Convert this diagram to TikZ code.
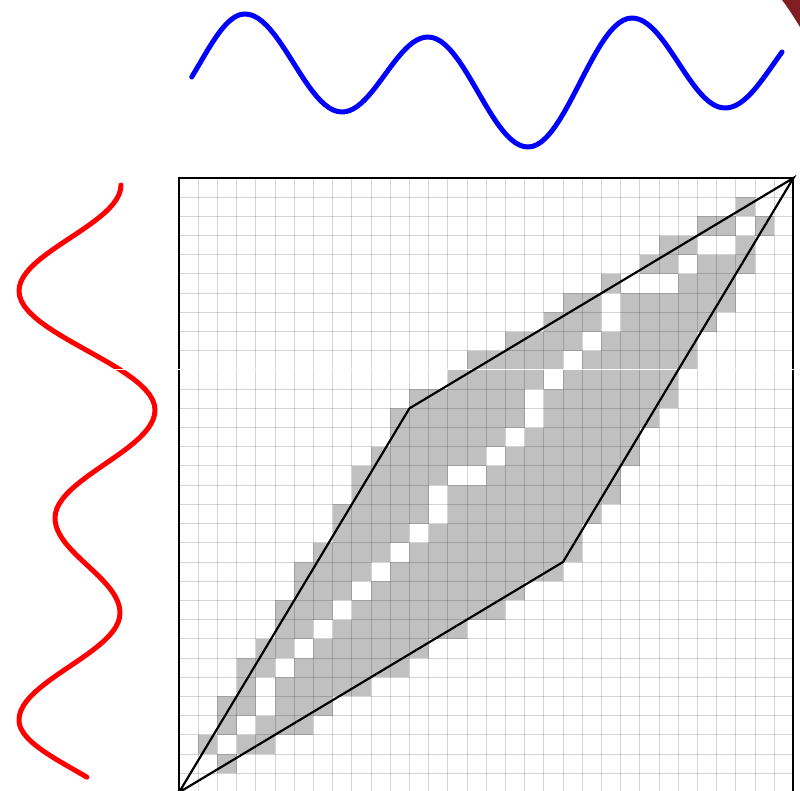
\documentclass[tikz,border=0pt]{standalone}
\begin{document}
\begin{tikzpicture}[x=0.25mm,y=-0.25mm,
  seriesline/.style={line width=1.25mm,line cap=round,line join=round},
  maskcell/.style={fill={rgb,255:red,192;green,192;blue,192}},
  gridline/.style={draw=black,draw opacity=0.17,line width=0.25mm},
  boundline/.style={draw=black,line width=0.55mm,line join=miter}]
% 800 x 791 px, pixel coordinates, y down
\useasboundingbox (0,0) rectangle (800,791);
\path[fill={rgb,255:red,128;green,30;blue,36}] (782,0) -- (800,0) -- (800,27) .. controls (795,19) and (789,9) .. cycle;
% query series (blue), cosine pieces between extrema
\draw[seriesline,draw=blue] (191.7,77)
  \foreach \xa/\ya/\xb/\yb/\ta/\tb in {155/112/245/14/0.408/1,245/14/342/112/0/1,342/112/428/37/0/1,428/37/528/147/0/1,528/147/632/18/0/1,632/18/725/108/0/1,725/108/822/20/0/0.588}
  { -- plot[domain=\ta:\tb,samples=24] ({\xa+(\xb-\xa)*\x},{(\ya+\yb)/2+(\ya-\yb)/2*cos(180*\x)}) };
% reference series (red), running downwards
\draw[seriesline,draw=red] (121,185)
  \foreach \xa/\ya/\xb/\yb/\ta/\tb in {121/185/19/291/0/1,19/291/155/410/0/1,155/410/55/518/0/1,55/518/120/613/0/1,120/613/19/720/0/1,19/720/130/820/0/0.572}
  { -- plot[domain=\ta:\tb,samples=24] ({(\xa+\xb)/2+(\xa-\xb)/2*cos(180*\x)},{\ya+(\yb-\ya)*\x}) };
\begin{scope}[shift={(179,792.4)},x=4.8mm,y=4.8mm]
% allowed cells, row/first/last
\foreach \j/\lo/\hi in {1/1/2,2/1/4,3/2/6,4/2/7,5/3/9,6/3/11,7/4/12,8/5/14,9/5/16,10/6/17,11/6/19,12/7/20,13/8/20,14/8/21,15/9/22,16/9/22,17/10/23,18/11/23,19/11/24,20/12/25,21/14/25,22/15/26,23/17/26,24/19/27,25/20/28,26/22/28,27/24/29,28/25/29,29/27/30,30/29/30}
  \foreach \i in {\lo,...,\hi}
    \path[maskcell] (\i,\j) rectangle ++(1,1);
% warping path
\foreach \i/\j in {0/0,1/1,2/2,3/3,4/4,4/5,5/6,6/7,7/8,8/9,9/10,10/11,11/12,12/13,13/14,13/15,14/16,15/16,16/17,17/18,18/19,18/20,19/21,20/22,21/23,22/24,22/25,23/26,24/26,25/26,26/27,27/28,28/28,29/29,30/30,31/31}
  \path[fill=white] (\i,\j) rectangle ++(1,1);
\foreach \k in {1,...,31} {
  \draw[gridline] (\k,0) -- (\k,32);
  \draw[gridline] (0,\k) -- (32,\k);
}
\draw[line width=0.5mm] (0,0) rectangle (32,32);
\end{scope}
\draw[white,line width=0.25mm] (0,369) -- (800,369);
\begin{scope}[shift={(179,792.4)},x=4.8mm,y=4.8mm]
\draw[boundline] (0,0) -- (12,20) -- (32,32) -- (20,12) -- cycle;
\end{scope}
\end{tikzpicture}
\end{document}
